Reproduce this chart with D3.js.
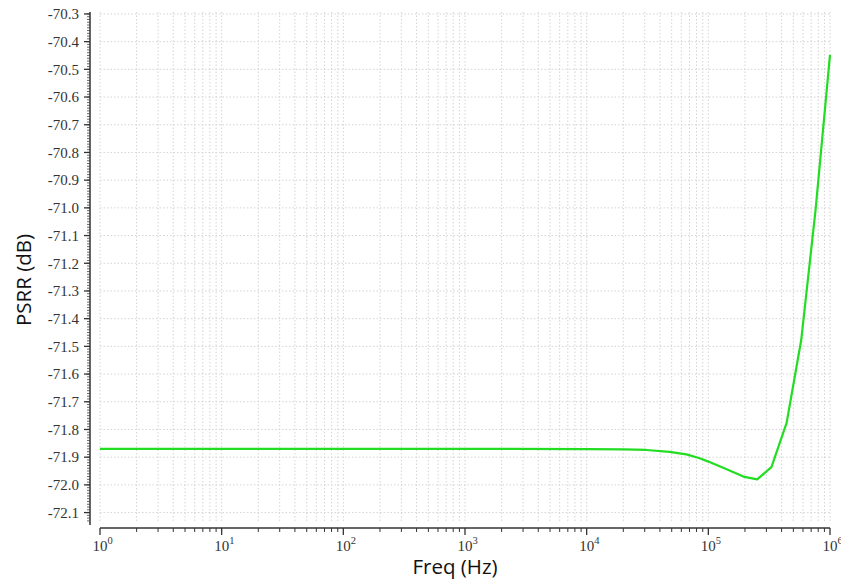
<!DOCTYPE html>
<html lang="en">
<meta charset="utf-8">
<style>
  body { margin: 0; background: #fff; }
  .grid line { stroke: #d4d4d4; stroke-width: 1; stroke-dasharray: 1.5,2; }
  .axisTitle { font-family: "Open Sans", sans-serif; font-size: 20.5px; fill: #111; }
</style>
<script src="https://d3js.org/d3.v7.min.js"></script>
<body>
<div id="d3"></div>
<script>
// frequency (Hz) and PSRR (dB)
const freq = [1, 10, 100, 1e3, 1e4, 2e4, 3.1e4, 4.8e4, 6.6e4, 8.5e4, 1.0e5, 1.4e5, 1.94e5, 2.52e5, 3.3e5, 4.4e5, 5.8e5, 7.6e5, 1e6]
const psrr = [-71.87, -71.87, -71.87, -71.87, -71.871, -71.872, -71.874, -71.881, -71.89, -71.904, -71.916, -71.943, -71.97, -71.98, -71.936, -71.776, -71.477, -71.01, -70.448]

const yTicks = [-70.3, -70.4, -70.5, -70.6, -70.7, -70.8, -70.9, -71.0, -71.1, -71.2, -71.3, -71.4, -71.5, -71.6, -71.7, -71.8, -71.9, -72.0, -72.1]
const xTicks = [1, 10, 100, 1e3, 1e4, 1e5, 1e6]

const data = freq.map((f, i) => ({ f, v: psrr[i] }))

const W = 841, H = 580
const LEFT = 100, RIGHT = 830, TOP = 12, BOTTOM = 522

const svg = d3.select("#d3").append("svg")
  .attr("width", W)
  .attr("height", H)

const x = d3.scaleLog().domain([1, 1e6]).range([LEFT, RIGHT])
const y = d3.scaleLinear().domain([-72.134, -70.293]).range([BOTTOM, TOP])

// minor ticks for the log axis
const xMinor = []
for (let e = 0; e < 6; e++) for (let k = 2; k <= 9; k++) xMinor.push(k * Math.pow(10, e))
const yMinor = d3.range(-72.13, -70.295, 0.01).map(d => +d.toFixed(2))

// grid
const grid = svg.append("g").attr("class", "grid")
grid.selectAll(".vg").data(xTicks.concat(xMinor)).join("line")
  .attr("x1", d => x(d)).attr("x2", d => x(d))
  .attr("y1", TOP).attr("y2", BOTTOM)
grid.selectAll(".hg").data(yTicks).join("line")
  .attr("x1", LEFT).attr("x2", RIGHT)
  .attr("y1", d => y(d)).attr("y2", d => y(d))

// x axis (offset below plot)
const xAxisY = 528
const xAxis = svg.append("g").attr("transform", `translate(0, ${xAxisY})`)
xAxis.append("line").attr("x1", LEFT).attr("x2", RIGHT).attr("stroke", "#333").attr("stroke-width", 1.5)
xAxis.selectAll(".mn").data(xMinor).join("line")
  .attr("x1", d => x(d)).attr("x2", d => x(d)).attr("y1", 0).attr("y2", 4)
  .attr("stroke", "#333")
xAxis.selectAll(".mj").data(xTicks).join("line")
  .attr("x1", d => x(d)).attr("x2", d => x(d)).attr("y1", 0).attr("y2", 7)
  .attr("stroke", "#333").attr("stroke-width", 1.3)
xAxis.selectAll(".lbl").data(xTicks).join("text")
  .attr("x", d => x(d)).attr("y", 23)
  .attr("text-anchor", "middle")
  .attr("font-family", "'Liberation Serif', serif")
  .attr("font-size", 15)
  .attr("fill", "#333")
  .text("10")
xAxis.selectAll(".exp").data(xTicks).join("text")
  .attr("x", d => x(d) + 7.5).attr("y", 16)
  .attr("font-family", "'Liberation Serif', serif")
  .attr("font-size", 10.5)
  .attr("fill", "#333")
  .text(d => Math.round(Math.log10(d)))

// y axis (offset left of plot)
const yAxisX = 90
const yAxis = svg.append("g").attr("transform", `translate(${yAxisX}, 0)`)
yAxis.append("line").attr("y1", TOP).attr("y2", 525).attr("stroke", "#333").attr("stroke-width", 1.5)
yAxis.selectAll(".mn").data(yMinor).join("line")
  .attr("y1", d => y(d)).attr("y2", d => y(d)).attr("x1", 0).attr("x2", -3)
  .attr("stroke", "#444").attr("stroke-width", 0.8)
yAxis.selectAll(".mj").data(yTicks).join("line")
  .attr("y1", d => y(d)).attr("y2", d => y(d)).attr("x1", 0).attr("x2", -6)
  .attr("stroke", "#333").attr("stroke-width", 1.3)
yAxis.selectAll(".lbl").data(yTicks).join("text")
  .attr("x", -11).attr("y", d => y(d)).attr("dy", "0.35em")
  .attr("text-anchor", "end")
  .attr("font-family", "'Liberation Serif', serif")
  .attr("font-size", 15)
  .attr("fill", "#333")
  .text(d => d.toFixed(1))

// the curve
const line = d3.line().x(d => x(d.f)).y(d => y(d.v))
svg.append("path")
  .datum(data)
  .attr("fill", "none")
  .attr("stroke", "#22dd22")
  .attr("stroke-width", 2.2)
  .attr("stroke-linejoin", "round")
  .attr("d", line)

// axis titles
svg.append("text").attr("class", "axisTitle")
  .attr("x", 455).attr("y", 574)
  .attr("text-anchor", "middle")
  .text("Freq (Hz)")
svg.append("text").attr("class", "axisTitle")
  .attr("transform", "translate(31, 280) rotate(-90)")
  .attr("text-anchor", "middle")
  .text("PSRR (dB)")
</script>
</body>
</html>
